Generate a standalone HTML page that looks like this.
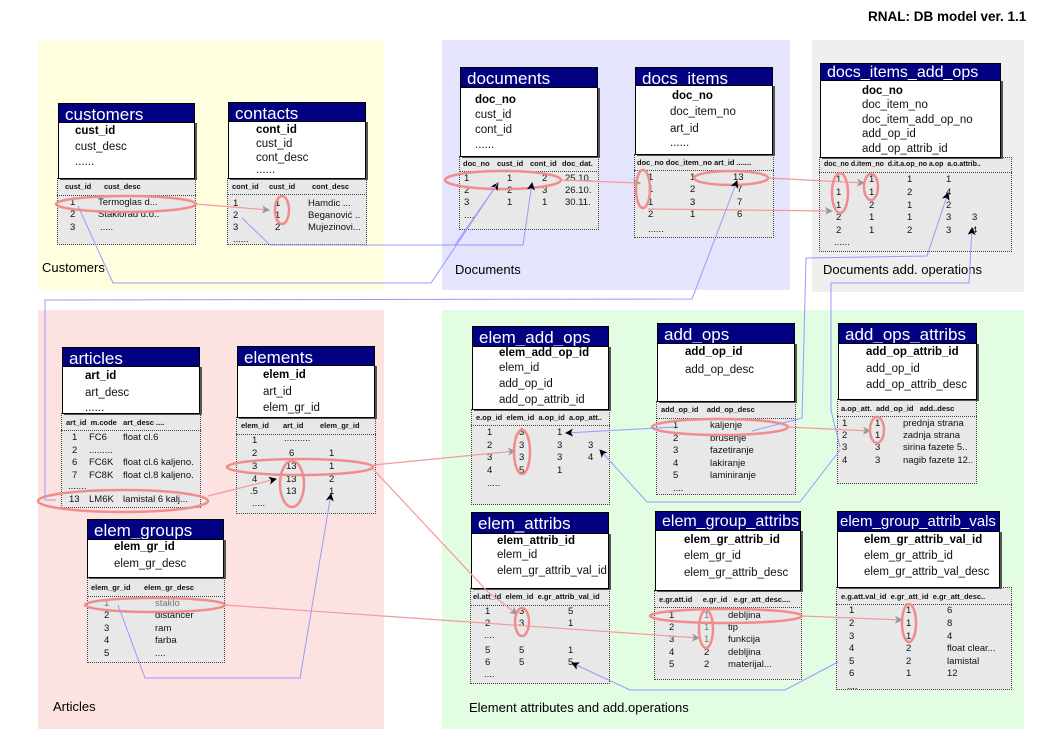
<!DOCTYPE html>
<html><head><meta charset="utf-8">
<style>
*{margin:0;padding:0;box-sizing:border-box}
body{width:1052px;height:744px;background:#fff;position:relative;overflow:hidden;font-family:"Liberation Sans",Arial,sans-serif;color:#000}
.r{position:absolute}
.hd{position:absolute;background:#000080;color:#fff;font-size:17px;line-height:1;padding:2px 0 0 6px;border:1px solid #000;white-space:nowrap;overflow:hidden}
.bd{position:absolute;background:#fff;border:1px solid #000;box-shadow:2px 1px 0 #555}
.dt{position:absolute;background:#e8e8e8;border:1px dotted #444}
.sp{position:absolute;border-top:1px dotted #444;height:0}
.f,.b,.h,.d,.l{position:absolute;white-space:nowrap;line-height:1}
.f{font-size:11.5px;color:#111}
.b{font-size:11.5px;font-weight:bold}
.h{font-size:7.5px;font-weight:bold;color:#111}
.d{font-size:9.5px;color:#111}
.l{font-size:13px}
svg{position:absolute;left:0;top:0}
</style></head><body>
<div class="r" style="left:38px;top:41px;width:346px;height:249px;background:#ffffe0"></div>
<div class="r" style="left:442px;top:40px;width:348px;height:250px;background:#e4e4fc"></div>
<div class="r" style="left:812px;top:40px;width:212px;height:252px;background:#efefef"></div>
<div class="r" style="left:38px;top:310px;width:346px;height:419px;background:#fde2e2"></div>
<div class="r" style="left:442px;top:310px;width:582px;height:419px;background:#e2fde2"></div>

<div class="l" style="left:868px;top:10px;font-weight:bold;font-size:13.5px">RNAL: DB model ver. 1.1</div>
<div class="l" style="left:42px;top:261px">Customers</div>
<div class="l" style="left:455px;top:263px">Documents</div>
<div class="l" style="left:823px;top:263px">Documents add. operations</div>
<div class="l" style="left:53px;top:700px">Articles</div>
<div class="l" style="left:469px;top:701px">Element attributes and add.operations</div>

<!-- customers -->
<div class="dt" style="left:57px;top:178px;width:139px;height:67px"></div><div class="sp" style="left:57px;top:195px;width:139px"></div>
<div class="bd" style="left:58px;top:122px;width:137px;height:57px"></div>
<div class="hd" style="left:58px;top:103px;width:137px;height:20px">customers</div>
<div class="b" style="left:75px;top:126px">cust_id</div><div class="f" style="left:75px;top:142px">cust_desc</div><div class="f" style="left:75px;top:157px">......</div>
<div class="h" style="left:65px;top:183px">cust_id</div><div class="h" style="left:104px;top:183px">cust_desc</div>
<div class="d" style="left:70px;top:198px">1</div><div class="d" style="left:98px;top:198px">Termoglas d...</div>
<div class="d" style="left:70px;top:210px">2</div><div class="d" style="left:98px;top:210px">Staklorad d.o..</div>
<div class="d" style="left:70px;top:223px">3</div><div class="d" style="left:100px;top:223px">.....</div>

<!-- contacts -->
<div class="dt" style="left:227px;top:178px;width:140px;height:67px"></div><div class="sp" style="left:227px;top:194px;width:140px"></div>
<div class="bd" style="left:228px;top:121px;width:138px;height:58px"></div>
<div class="hd" style="left:228px;top:102px;width:138px;height:20px">contacts</div>
<div class="b" style="left:256px;top:125px">cont_id</div><div class="f" style="left:256px;top:139px">cust_id</div><div class="f" style="left:256px;top:153px">cont_desc</div><div class="f" style="left:256px;top:165px">......</div>
<div class="h" style="left:232px;top:183px">cont_id</div><div class="h" style="left:269px;top:183px">cust_id</div><div class="h" style="left:312px;top:183px">cont_desc</div>
<div class="d" style="left:233px;top:199px">1</div><div class="d" style="left:275px;top:199px">1</div><div class="d" style="left:308px;top:199px">Hamdic ...</div>
<div class="d" style="left:233px;top:211px">2</div><div class="d" style="left:275px;top:211px">1</div><div class="d" style="left:308px;top:211px">Beganović ..</div>
<div class="d" style="left:233px;top:223px">3</div><div class="d" style="left:275px;top:223px">2</div><div class="d" style="left:308px;top:223px">Mujezinovi...</div>
<div class="d" style="left:233px;top:235px">......</div>

<!-- documents -->
<div class="dt" style="left:459px;top:156px;width:140px;height:74px"></div><div class="sp" style="left:459px;top:171px;width:140px"></div>
<div class="bd" style="left:460px;top:87px;width:138px;height:70px"></div>
<div class="hd" style="left:460px;top:67px;width:138px;height:21px">documents</div>
<div class="b" style="left:475px;top:95px">doc_no</div><div class="f" style="left:475px;top:110px">cust_id</div><div class="f" style="left:475px;top:125px">cont_id</div><div class="f" style="left:475px;top:140px">......</div>
<div class="h" style="left:463px;top:160px">doc_no</div><div class="h" style="left:497px;top:160px">cust_id</div><div class="h" style="left:530px;top:160px">cont_id</div><div class="h" style="left:562px;top:160px">doc_dat.</div>
<div class="d" style="left:464px;top:174px">1</div><div class="d" style="left:507px;top:174px">1</div><div class="d" style="left:542px;top:174px">2</div><div class="d" style="left:565px;top:174px">25.10.</div>
<div class="d" style="left:464px;top:186px">2</div><div class="d" style="left:507px;top:186px">2</div><div class="d" style="left:542px;top:186px">3</div><div class="d" style="left:565px;top:186px">26.10.</div>
<div class="d" style="left:464px;top:198px">3</div><div class="d" style="left:507px;top:198px">1</div><div class="d" style="left:542px;top:198px">1</div><div class="d" style="left:565px;top:198px">30.11.</div>
<div class="d" style="left:464px;top:211px">....</div>

<!-- docs_items -->
<div class="dt" style="left:634px;top:154px;width:140px;height:84px"></div><div class="sp" style="left:634px;top:170px;width:140px"></div>
<div class="bd" style="left:635px;top:85px;width:138px;height:70px"></div>
<div class="hd" style="left:635px;top:67px;width:138px;height:19px">docs_items</div>
<div class="b" style="left:672px;top:91px">doc_no</div><div class="f" style="left:670px;top:107px">doc_item_no</div><div class="f" style="left:670px;top:124px">art_id</div><div class="f" style="left:670px;top:138px">......</div>
<div class="h" style="left:637px;top:159px">doc_no doc_item_no art_id .......</div>
<div class="d" style="left:648px;top:173px">1</div><div class="d" style="left:690px;top:173px">1</div><div class="d" style="left:733px;top:173px">13</div>
<div class="d" style="left:648px;top:185px">1</div><div class="d" style="left:690px;top:185px">2</div><div class="d" style="left:737px;top:185px">7</div>
<div class="d" style="left:648px;top:198px">1</div><div class="d" style="left:690px;top:198px">3</div><div class="d" style="left:737px;top:198px">7</div>
<div class="d" style="left:648px;top:210px">2</div><div class="d" style="left:690px;top:210px">1</div><div class="d" style="left:737px;top:210px">6</div>
<div class="d" style="left:648px;top:225px">......</div>

<!-- docs_items_add_ops -->
<div class="dt" style="left:819px;top:157px;width:193px;height:95px"></div><div class="sp" style="left:819px;top:172px;width:193px"></div>
<div class="bd" style="left:820px;top:80px;width:181px;height:78px"></div>
<div class="hd" style="left:820px;top:63px;width:181px;height:18px;font-size:16px;padding-top:1px">docs_items_add_ops</div>
<div class="b" style="left:862px;top:86px">doc_no</div><div class="f" style="left:862px;top:100px">doc_item_no</div><div class="f" style="left:862px;top:115px">doc_item_add_op_no</div><div class="f" style="left:862px;top:129px">add_op_id</div><div class="f" style="left:862px;top:144px">add_op_attrib_id</div>
<div class="h" style="left:824px;top:161px;font-size:7px">doc_no d.item_no &nbsp;d.it.a.op_no a.op &nbsp;a.o.attrib..</div>
<div class="d" style="left:836px;top:175px">1</div><div class="d" style="left:869px;top:175px">1</div><div class="d" style="left:907px;top:175px">1</div><div class="d" style="left:946px;top:175px">1</div>
<div class="d" style="left:836px;top:188px">1</div><div class="d" style="left:869px;top:188px">1</div><div class="d" style="left:907px;top:188px">2</div><div class="d" style="left:946px;top:188px">4</div>
<div class="d" style="left:836px;top:201px">1</div><div class="d" style="left:869px;top:201px">2</div><div class="d" style="left:907px;top:201px">1</div><div class="d" style="left:946px;top:201px">2</div>
<div class="d" style="left:836px;top:213px">2</div><div class="d" style="left:869px;top:213px">1</div><div class="d" style="left:907px;top:213px">1</div><div class="d" style="left:946px;top:213px">3</div><div class="d" style="left:972px;top:213px">3</div>
<div class="d" style="left:836px;top:226px">2</div><div class="d" style="left:869px;top:226px">1</div><div class="d" style="left:907px;top:226px">2</div><div class="d" style="left:946px;top:226px">3</div><div class="d" style="left:972px;top:226px">4</div>
<div class="d" style="left:834px;top:238px">......</div>

<!-- articles -->
<div class="dt" style="left:61px;top:413px;width:140px;height:95px"></div><div class="sp" style="left:61px;top:430px;width:140px"></div>
<div class="bd" style="left:62px;top:366px;width:138px;height:48px"></div>
<div class="hd" style="left:62px;top:347px;width:138px;height:20px">articles</div>
<div class="b" style="left:85px;top:371px">art_id</div><div class="f" style="left:85px;top:388px">art_desc</div><div class="f" style="left:85px;top:403px">......</div>
<div class="h" style="left:66px;top:419px">art_id &nbsp;m.code &nbsp;&nbsp;art_desc ....</div>
<div class="d" style="left:72px;top:433px">1</div><div class="d" style="left:89px;top:433px">FC6</div><div class="d" style="left:123px;top:433px">float cl.6</div>
<div class="d" style="left:72px;top:446px">2</div><div class="d" style="left:89px;top:446px">.........</div>
<div class="d" style="left:72px;top:458px">6</div><div class="d" style="left:89px;top:458px">FC6K</div><div class="d" style="left:123px;top:458px">float cl.6 kaljeno.</div>
<div class="d" style="left:72px;top:471px">7</div><div class="d" style="left:89px;top:471px">FC8K</div><div class="d" style="left:123px;top:471px">float cl.8 kaljeno.</div>
<div class="d" style="left:68px;top:482px">.......</div>
<div class="d" style="left:69px;top:495px">13</div><div class="d" style="left:89px;top:495px">LM6K</div><div class="d" style="left:123px;top:495px">lamistal 6 kalj...</div>

<!-- elements -->
<div class="dt" style="left:236px;top:417px;width:140px;height:97px"></div><div class="sp" style="left:236px;top:434px;width:140px"></div>
<div class="bd" style="left:237px;top:365px;width:138px;height:53px"></div>
<div class="hd" style="left:237px;top:346px;width:138px;height:20px">elements</div>
<div class="b" style="left:263px;top:370px">elem_id</div><div class="f" style="left:263px;top:387px">art_id</div><div class="f" style="left:263px;top:403px">elem_gr_id</div>
<div class="h" style="left:241px;top:422px">elem_id</div><div class="h" style="left:283px;top:422px">art_id</div><div class="h" style="left:320px;top:422px">elem_gr_id</div>
<div class="d" style="left:252px;top:436px">1</div><div class="d" style="left:284px;top:434px">..........</div>
<div class="d" style="left:252px;top:449px">2</div><div class="d" style="left:289px;top:449px">6</div><div class="d" style="left:329px;top:449px">1</div>
<div class="d" style="left:252px;top:462px">3</div><div class="d" style="left:286px;top:462px">13</div><div class="d" style="left:329px;top:462px">1</div>
<div class="d" style="left:252px;top:475px">4</div><div class="d" style="left:286px;top:475px">13</div><div class="d" style="left:329px;top:475px">2</div>
<div class="d" style="left:250px;top:487px">.5</div><div class="d" style="left:286px;top:487px">13</div><div class="d" style="left:329px;top:487px">1</div>
<div class="d" style="left:252px;top:499px">.....</div>

<!-- elem_groups -->
<div class="dt" style="left:87px;top:577px;width:138px;height:86px"></div><div class="sp" style="left:87px;top:596px;width:138px"></div>
<div class="bd" style="left:87px;top:539px;width:137px;height:39px"></div>
<div class="hd" style="left:87px;top:519px;width:137px;height:21px">elem_groups</div>
<div class="b" style="left:114px;top:542px">elem_gr_id</div><div class="f" style="left:114px;top:559px">elem_gr_desc</div>
<div class="h" style="left:91px;top:584px">elem_gr_id</div><div class="h" style="left:144px;top:584px">elem_gr_desc</div>
<div class="d" style="left:104px;top:599px;color:#777">1</div><div class="d" style="left:155px;top:599px;color:#777">staklo</div>
<div class="d" style="left:104px;top:611px">2</div><div class="d" style="left:155px;top:611px">distancer</div>
<div class="d" style="left:104px;top:624px">3</div><div class="d" style="left:155px;top:624px">ram</div>
<div class="d" style="left:104px;top:636px">4</div><div class="d" style="left:155px;top:636px">farba</div>
<div class="d" style="left:104px;top:649px">5</div><div class="d" style="left:155px;top:649px">....</div>

<!-- elem_add_ops -->
<div class="dt" style="left:471px;top:409px;width:139px;height:96px"></div><div class="sp" style="left:471px;top:425px;width:139px"></div>
<div class="bd" style="left:472px;top:346px;width:137px;height:64px"></div>
<div class="hd" style="left:472px;top:326px;width:137px;height:21px">elem_add_ops</div>
<div class="b" style="left:499px;top:348px">elem_add_op_id</div><div class="f" style="left:499px;top:363px">elem_id</div><div class="f" style="left:499px;top:379px">add_op_id</div><div class="f" style="left:499px;top:395px">add_op_attrib_id</div>
<div class="h" style="left:476px;top:414px">e.op_id &nbsp;elem_id &nbsp;a.op_id &nbsp;a.op_att..</div>
<div class="d" style="left:487px;top:428px">1</div><div class="d" style="left:519px;top:428px">3</div><div class="d" style="left:557px;top:428px">1</div>
<div class="d" style="left:487px;top:441px">2</div><div class="d" style="left:519px;top:441px">3</div><div class="d" style="left:557px;top:441px">3</div><div class="d" style="left:588px;top:441px">3</div>
<div class="d" style="left:487px;top:453px">3</div><div class="d" style="left:519px;top:453px">3</div><div class="d" style="left:557px;top:453px">3</div><div class="d" style="left:588px;top:453px">4</div>
<div class="d" style="left:487px;top:466px">4</div><div class="d" style="left:519px;top:466px">5</div><div class="d" style="left:557px;top:466px">1</div>
<div class="d" style="left:487px;top:479px">.....</div>

<!-- add_ops -->
<div class="dt" style="left:656px;top:401px;width:140px;height:94px"></div><div class="sp" style="left:656px;top:418px;width:140px"></div>
<div class="bd" style="left:657px;top:343px;width:138px;height:59px"></div>
<div class="hd" style="left:657px;top:323px;width:138px;height:21px">add_ops</div>
<div class="b" style="left:685px;top:347px">add_op_id</div><div class="f" style="left:685px;top:365px">add_op_desc</div>
<div class="h" style="left:661px;top:406px">add_op_id &nbsp;&nbsp;&nbsp;add_op_desc</div>
<div class="d" style="left:673px;top:421px">1</div><div class="d" style="left:710px;top:421px">kaljenje</div>
<div class="d" style="left:673px;top:434px">2</div><div class="d" style="left:710px;top:434px">brusenje</div>
<div class="d" style="left:673px;top:446px">3</div><div class="d" style="left:710px;top:446px">fazetiranje</div>
<div class="d" style="left:673px;top:459px">4</div><div class="d" style="left:710px;top:459px">lakiranje</div>
<div class="d" style="left:673px;top:471px">5</div><div class="d" style="left:710px;top:471px">laminiranje</div>
<div class="d" style="left:673px;top:484px">....</div>

<!-- add_ops_attribs -->
<div class="dt" style="left:837px;top:399px;width:140px;height:85px"></div><div class="sp" style="left:837px;top:416px;width:140px"></div>
<div class="bd" style="left:838px;top:343px;width:139px;height:57px"></div>
<div class="hd" style="left:838px;top:323px;width:139px;height:21px">add_ops_attribs</div>
<div class="b" style="left:866px;top:347px">add_op_attrib_id</div><div class="f" style="left:866px;top:364px">add_op_id</div><div class="f" style="left:866px;top:380px">add_op_attrib_desc</div>
<div class="h" style="left:841px;top:405px">a.op_att. &nbsp;add_op_id &nbsp;&nbsp;add..desc</div>
<div class="d" style="left:842px;top:419px">1</div><div class="d" style="left:875px;top:419px">1</div><div class="d" style="left:903px;top:419px">prednja strana</div>
<div class="d" style="left:842px;top:431px">2</div><div class="d" style="left:875px;top:431px">1</div><div class="d" style="left:903px;top:431px">zadnja strana</div>
<div class="d" style="left:842px;top:443px">3</div><div class="d" style="left:875px;top:443px">3</div><div class="d" style="left:903px;top:443px">sirina fazete 5..</div>
<div class="d" style="left:842px;top:456px">4</div><div class="d" style="left:875px;top:456px">3</div><div class="d" style="left:903px;top:456px">nagib fazete 12..</div>

<!-- elem_attribs -->
<div class="dt" style="left:470px;top:588px;width:140px;height:96px"></div><div class="sp" style="left:470px;top:605px;width:140px"></div>
<div class="bd" style="left:471px;top:533px;width:138px;height:56px"></div>
<div class="hd" style="left:471px;top:512px;width:138px;height:22px">elem_attribs</div>
<div class="b" style="left:497px;top:536px">elem_attrib_id</div><div class="f" style="left:497px;top:550px">elem_id</div><div class="f" style="left:497px;top:566px">elem_gr_attrib_val_id</div>
<div class="h" style="left:473px;top:593px">el.att_id &nbsp;elem_id &nbsp;e.gr_attrib_val_id</div>
<div class="d" style="left:485px;top:607px">1</div><div class="d" style="left:519px;top:607px">3</div><div class="d" style="left:568px;top:607px">5</div>
<div class="d" style="left:485px;top:619px">2</div><div class="d" style="left:519px;top:619px">3</div><div class="d" style="left:568px;top:619px">1</div>
<div class="d" style="left:484px;top:631px">....</div>
<div class="d" style="left:485px;top:646px">5</div><div class="d" style="left:519px;top:646px">5</div><div class="d" style="left:568px;top:646px">1</div>
<div class="d" style="left:485px;top:658px">6</div><div class="d" style="left:519px;top:658px">5</div><div class="d" style="left:568px;top:658px">5</div>
<div class="d" style="left:484px;top:670px">....</div>

<!-- elem_group_attribs -->
<div class="dt" style="left:654px;top:590px;width:148px;height:90px"></div><div class="sp" style="left:654px;top:607px;width:148px"></div>
<div class="bd" style="left:655px;top:530px;width:146px;height:61px"></div>
<div class="hd" style="left:655px;top:511px;width:146px;height:20px;font-size:16px">elem_group_attribs</div>
<div class="b" style="left:684px;top:535px">elem_gr_attrib_id</div><div class="f" style="left:684px;top:551px">elem_gr_id</div><div class="f" style="left:684px;top:568px">elem_gr_attrib_desc</div>
<div class="h" style="left:659px;top:596px">e.gr.att.id &nbsp;&nbsp;&nbsp;&nbsp;e.gr_id &nbsp;&nbsp;e.gr_att_desc....</div>
<div class="d" style="left:669px;top:611px">1</div><div class="d" style="left:704px;top:611px;color:#777">1</div><div class="d" style="left:728px;top:611px">debljina</div>
<div class="d" style="left:669px;top:623px">2</div><div class="d" style="left:704px;top:623px;color:#777">1</div><div class="d" style="left:728px;top:623px">tip</div>
<div class="d" style="left:669px;top:635px">3</div><div class="d" style="left:704px;top:635px;color:#777">1</div><div class="d" style="left:728px;top:635px">funkcija</div>
<div class="d" style="left:669px;top:648px">4</div><div class="d" style="left:704px;top:648px">2</div><div class="d" style="left:728px;top:648px">debljina</div>
<div class="d" style="left:669px;top:660px">5</div><div class="d" style="left:704px;top:660px">2</div><div class="d" style="left:728px;top:660px">materijal...</div>

<!-- elem_group_attrib_vals -->
<div class="dt" style="left:836px;top:587px;width:176px;height:103px"></div><div class="sp" style="left:836px;top:604px;width:176px"></div>
<div class="bd" style="left:837px;top:531px;width:163px;height:57px"></div>
<div class="hd" style="left:837px;top:511px;width:163px;height:21px;font-size:15px;padding-left:2px">elem_group_attrib_vals</div>
<div class="b" style="left:864px;top:535px">elem_gr_attrib_val_id</div><div class="f" style="left:864px;top:551px">elem_gr_attrib_id</div><div class="f" style="left:864px;top:567px">elem_gr_attrib_val_desc</div>
<div class="h" style="left:841px;top:593px">e.g.att.val_id &nbsp;e.gr_att_id &nbsp;e.gr_att_desc..</div>
<div class="d" style="left:849px;top:606px">1</div><div class="d" style="left:906px;top:606px">1</div><div class="d" style="left:947px;top:606px">6</div>
<div class="d" style="left:849px;top:619px">2</div><div class="d" style="left:906px;top:619px">1</div><div class="d" style="left:947px;top:619px">8</div>
<div class="d" style="left:849px;top:632px">3</div><div class="d" style="left:906px;top:632px">1</div><div class="d" style="left:947px;top:632px">4</div>
<div class="d" style="left:849px;top:644px">4</div><div class="d" style="left:906px;top:644px">2</div><div class="d" style="left:947px;top:644px">float clear...</div>
<div class="d" style="left:849px;top:657px">5</div><div class="d" style="left:906px;top:657px">2</div><div class="d" style="left:947px;top:657px">lamistal</div>
<div class="d" style="left:849px;top:669px">6</div><div class="d" style="left:906px;top:669px">1</div><div class="d" style="left:947px;top:669px">12</div>
<div class="d" style="left:847px;top:682px">....</div>

<svg width="1052" height="744" viewBox="0 0 1052 744">
<defs>
<marker id="ab" markerWidth="8" markerHeight="8" refX="7" refY="4" orient="auto" markerUnits="userSpaceOnUse"><path d="M0,0 L8,4 L0,8 L2,4z" fill="#000"/></marker>
<marker id="ag" markerWidth="8" markerHeight="8" refX="7" refY="4" orient="auto" markerUnits="userSpaceOnUse"><path d="M0,0 L8,4 L0,8 L2,4z" fill="#999"/></marker>
</defs>
<g fill="none" stroke="#f49a9a" stroke-width="1.2">
<polyline points="196,204 269,210" marker-end="url(#ag)"/>
<polyline points="561,180 640,183" marker-end="url(#ag)"/>
<polyline points="768,178 864,183" marker-end="url(#ag)"/>
<polyline points="648,209 832,211" marker-end="url(#ag)"/>
<polyline points="208,496 276,479" marker-end="url(#ab)"/>
<polyline points="373,465 515,451" marker-end="url(#ag)"/>
<polyline points="372,468 488,592 517,614" marker-end="url(#ag)"/>
<polyline points="225,605 699,638" marker-end="url(#ag)"/>
<polyline points="788,427 870,431" marker-end="url(#ag)"/>
<polyline points="802,616 902,620" marker-end="url(#ag)"/>
</g>
<g fill="none" stroke="#f08c8c" stroke-width="2.5">
<ellipse cx="126" cy="204" rx="70" ry="8"/>
<ellipse cx="282" cy="210" rx="7" ry="14"/>
<ellipse cx="503" cy="180" rx="58" ry="9"/>
<ellipse cx="643" cy="189" rx="7" ry="19"/>
<ellipse cx="731" cy="178" rx="37" ry="7"/>
<ellipse cx="840" cy="193" rx="8" ry="20"/>
<ellipse cx="871" cy="187" rx="7" ry="13"/>
<ellipse cx="300" cy="467" rx="73" ry="8"/>
<ellipse cx="292" cy="484" rx="12" ry="23"/>
<ellipse cx="123" cy="501" rx="85" ry="11"/>
<ellipse cx="155" cy="605" rx="70" ry="7"/>
<ellipse cx="522" cy="452" rx="8" ry="22"/>
<ellipse cx="720" cy="427" rx="68" ry="8"/>
<ellipse cx="877" cy="430" rx="7" ry="13"/>
<ellipse cx="522" cy="622" rx="7" ry="14"/>
<ellipse cx="726" cy="616" rx="76" ry="7"/>
<ellipse cx="706" cy="629" rx="7" ry="19"/>
<ellipse cx="909" cy="623" rx="7" ry="19"/>
</g>
<g fill="none" stroke="#9999ff" stroke-width="1">
<polyline points="78,206 113,283 431,283 498,183" marker-end="url(#ab)"/>
<polyline points="242,218 270,245 523,245 532,183" marker-end="url(#ab)"/>
<polyline points="455,245 498,183"/>
<polyline points="56,500 45,500 45,300 692,299 737,181" marker-end="url(#ab)"/>
<polyline points="118,605 145,678 300,678 331,494" marker-end="url(#ab)"/>
<polyline points="675,427 566,433" marker-end="url(#ab)"/>
<polyline points="752,431 802,418 806,258 927,256 948,193" marker-end="url(#ab)"/>
<polyline points="840,447 831,410 831,283 969,283 972,228" marker-end="url(#ab)"/>
<polyline points="840,450 800,502 647,502 600,450" marker-end="url(#ab)"/>
<polyline points="838,662 785,690 630,690 572,663" marker-end="url(#ab)"/>
</g>
</svg>
</body></html>
